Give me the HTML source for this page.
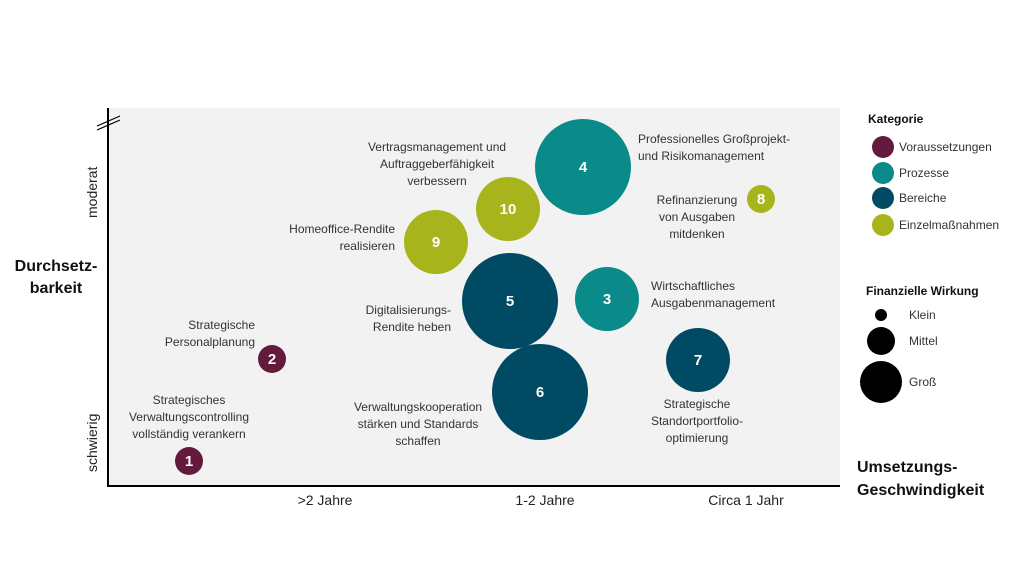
<!DOCTYPE html>
<html><head><meta charset="utf-8"><style>
body{margin:0;background:#fff}
svg{display:block;font-family:"Liberation Sans",sans-serif}
</style></head><body>
<svg width="1024" height="576" viewBox="0 0 1024 576" xmlns="http://www.w3.org/2000/svg">
<rect x="108" y="108" width="732" height="378" fill="#f2f2f2"/>
<line x1="108" y1="108" x2="108" y2="487" stroke="#000" stroke-width="2"/>
<line x1="107" y1="486" x2="840" y2="486" stroke="#000" stroke-width="2"/>
<line x1="97" y1="130" x2="120" y2="120" stroke="#000" stroke-width="1.2"/>
<line x1="97" y1="126" x2="120" y2="116" stroke="#000" stroke-width="1.2"/>
<g font-size="14" fill="#222">
<text transform="translate(97,218) rotate(-90)">moderat</text>
<text transform="translate(97,472) rotate(-90)">schwierig</text>
</g>
<g font-size="16" font-weight="bold" fill="#111" text-anchor="middle">
<text x="56" y="271">Durchsetz-</text>
<text x="56" y="293">barkeit</text>
</g>
<g font-size="16" font-weight="bold" fill="#111">
<text x="857" y="472">Umsetzungs-</text>
<text x="857" y="495">Geschwindigkeit</text>
</g>
<g font-size="14" fill="#222" text-anchor="middle">
<text x="325" y="505">&gt;2 Jahre</text>
<text x="545" y="505">1-2 Jahre</text>
<text x="746" y="505">Circa 1 Jahr</text>
</g>
<g font-size="12" fill="#333" text-anchor="end">
<text x="255" y="329">Strategische</text>
<text x="255" y="346">Personalplanung</text>
<text x="395" y="233">Homeoffice-Rendite</text>
<text x="395" y="250">realisieren</text>
<text x="451" y="314">Digitalisierungs-</text>
<text x="451" y="331">Rendite heben</text>
</g>
<g font-size="12" fill="#333" text-anchor="middle">
<text x="189" y="404">Strategisches</text>
<text x="189" y="421">Verwaltungscontrolling</text>
<text x="189" y="438">vollständig verankern</text>
<text x="437" y="151">Vertragsmanagement und</text>
<text x="437" y="168">Auftraggeberfähigkeit</text>
<text x="437" y="185">verbessern</text>
<text x="418" y="411">Verwaltungskooperation</text>
<text x="418" y="428">stärken und Standards</text>
<text x="418" y="445">schaffen</text>
<text x="697" y="204">Refinanzierung</text>
<text x="697" y="221">von Ausgaben</text>
<text x="697" y="238">mitdenken</text>
<text x="697" y="408">Strategische</text>
<text x="697" y="425">Standortportfolio-</text>
<text x="697" y="442">optimierung</text>
</g>
<g font-size="12" fill="#333">
<text x="638" y="143">Professionelles Großprojekt-</text>
<text x="638" y="160">und Risikomanagement</text>
<text x="651" y="290">Wirtschaftliches</text>
<text x="651" y="307">Ausgabenmanagement</text>
</g>
<circle cx="189" cy="461" r="14" fill="#641a3c"/>
<circle cx="272" cy="359" r="14" fill="#641a3c"/>
<circle cx="436" cy="242" r="32" fill="#a8b41c"/>
<circle cx="508" cy="209" r="32" fill="#a8b41c"/>
<circle cx="583" cy="167" r="48" fill="#0b8a8a"/>
<circle cx="761" cy="199" r="14" fill="#a8b41c"/>
<circle cx="607" cy="299" r="32" fill="#0b8a8a"/>
<circle cx="510" cy="301" r="48" fill="#004a63"/>
<circle cx="698" cy="360" r="32" fill="#004a63"/>
<circle cx="540" cy="392" r="48" fill="#004a63"/>
<g font-size="15" font-weight="bold" fill="#fff" text-anchor="middle">
<text x="189" y="466">1</text>
<text x="272" y="364">2</text>
<text x="436" y="247">9</text>
<text x="508" y="214">10</text>
<text x="583" y="172">4</text>
<text x="761" y="204">8</text>
<text x="607" y="304">3</text>
<text x="510" y="306">5</text>
<text x="698" y="365">7</text>
<text x="540" y="397">6</text>
</g>
<text x="868" y="123" font-size="12" font-weight="bold" fill="#111">Kategorie</text>
<circle cx="883" cy="147" r="11" fill="#641a3c"/>
<circle cx="883" cy="173" r="11" fill="#0b8a8a"/>
<circle cx="883" cy="198" r="11" fill="#004a63"/>
<circle cx="883" cy="225" r="11" fill="#a8b41c"/>
<g font-size="12" fill="#333">
<text x="899" y="151">Voraussetzungen</text>
<text x="899" y="177">Prozesse</text>
<text x="899" y="202">Bereiche</text>
<text x="899" y="229">Einzelmaßnahmen</text>
</g>
<text x="866" y="295" font-size="12" font-weight="bold" fill="#111">Finanzielle Wirkung</text>
<circle cx="881" cy="315" r="6" fill="#000"/>
<circle cx="881" cy="341" r="14" fill="#000"/>
<circle cx="881" cy="382" r="21" fill="#000"/>
<g font-size="12" fill="#333">
<text x="909" y="319">Klein</text>
<text x="909" y="345">Mittel</text>
<text x="909" y="386">Groß</text>
</g>
</svg>
</body></html>
